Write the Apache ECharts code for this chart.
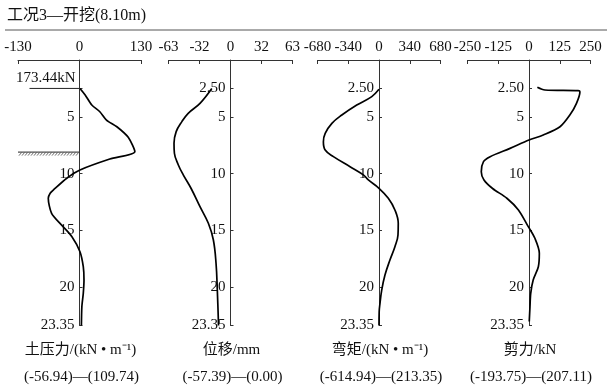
<!DOCTYPE html>
<html><head><meta charset="utf-8">
<script src="https://cdn.jsdelivr.net/npm/echarts@6/dist/echarts.min.js"></script>
<style>html,body{margin:0;padding:0;background:#fff}#c{width:607px;height:387px}</style>
</head><body><div id="c"></div>
<script>
// ---- data ----
const titleText = '工况3—开挖(8.10m)';
const depthTicks = [2.5, 5, 10, 15, 20, 23.35];
const depthTickLabels = ['2.50', '5', '10', '15', '20', '23.35'];

const panelNames = ['土压力/(kN • m⁻¹)', '位移/mm', '弯矩/(kN • m⁻¹)', '剪力/kN'];
const panelRanges = ['(-56.94)—(109.74)', '(-57.39)—(0.00)', '(-614.94)—(213.35)', '(-193.75)—(207.11)'];
const axisMin = [-130, -63, -680, -250];
const axisMax = [130, 63, 680, 250];
const axisInterval = [130, 31.5, 340, 125];

const strutDepth = 2.5;
const strutLabel = '173.44kN';
const excavationDepth = 8.1;

const epDepth = [2.5, 3.08, 3.96, 4.55, 5.28, 5.87, 6.8, 8.07, 8.71, 9.67, 10.4, 11.43, 11.72, 12.16, 13.48, 14.51, 15.54, 16.86, 18.18, 19.35, 20.52, 21.7, 23.35];
const epValue = [1, 12, 26, 43, 57, 79, 103, 117, 64, 1, -27, -55, -62, -66, -59, -38, -16, 1, 8, 9.5, 8, 5, 4];

const dispDepth = [2.5, 3.81, 4.69, 5.42, 6.3, 7.33, 8.2, 9.23, 10.1, 11.3, 12.9, 14.36, 15.83, 17.88, 20.23, 22.72, 23.35];
const dispValue = [-19, -31, -43, -49.4, -55.2, -57.4, -57, -53, -48, -40, -31, -22.5, -17.4, -14.7, -13.4, -12.4, -12.2];

const momDepth = [2.58, 3.22, 3.96, 4.84, 5.57, 6.45, 7.18, 7.92, 8.5, 9.38, 10.1, 10.55, 11.28, 12.16, 13.19, 14.36, 15.39, 16.42, 17.59, 18.91, 20.23, 21.4, 22.14, 23.35];
const momValue = [0, -80, -246, -411, -521, -595, -615, -595, -504, -320, -173, -118, 0, 103, 176, 213, 210, 176, 121, 66, 30, 11, 2, 0];

const shearDepth = [2.4, 2.64, 2.7, 2.79, 3.81, 4.84, 5.87, 6.6, 7.04, 7.77, 8.5, 8.94, 9.82, 10.55, 11.3, 12.16, 13.19, 14.66, 15.68, 17.0, 18.18, 19.35, 20.52, 21.7, 23.0];
const shearValue = [34, 65, 200, 207, 193, 166, 126, 58, 0, -77, -158, -185, -194, -183, -148, -90, -43, -3, 24, 42, 38, 17, 7, 4, 1];

// ---- chart ----
const FONT = "'Liberation Serif', 'Noto Sans CJK SC', serif";
const gridLefts = [18, 168.5, 317.5, 467.5];
const gridWidths = [123, 124, 123, 123];
const gridTop = 60, gridHeight = 265.5;

const seriesDepths = [epDepth, dispDepth, momDepth, shearDepth];
const seriesValues = [epValue, dispValue, momValue, shearValue];
const smoothness = [0.25, 0.4, 0.4, 0.3];

function fmtTop(v) {
  const s = v < 0 ? '-' : '';
  return s + Math.round(Math.abs(v));
}

const grids = [], xAxes = [], yAxes = [], series = [];
for (let i = 0; i < 4; i++) {
  grids.push({left: gridLefts[i], top: gridTop, width: gridWidths[i], height: gridHeight});
  xAxes.push({
    type: 'value', gridIndex: i, position: 'top', min: axisMin[i], max: axisMax[i], interval: axisInterval[i],
    axisLine: {show: true, onZero: false, lineStyle: {color: '#333', width: 1}},
    axisTick: {show: true, inside: true, length: 4, lineStyle: {color: '#333'}},
    axisLabel: {show: true, margin: 5, color: '#111', fontSize: 15, fontFamily: FONT, formatter: fmtTop, showMinLabel: true, showMaxLabel: true},
    splitLine: {show: false}
  });
  const zeroOffset = -gridWidths[i] * (0 - axisMin[i]) / (axisMax[i] - axisMin[i]);
  const hideFirst = (i === 0);
  yAxes.push({
    type: 'value', gridIndex: i, inverse: true, min: 0, max: 23.35, position: 'left', offset: zeroOffset,
    axisLine: {show: true, onZero: false, lineStyle: {color: '#333', width: 1}},
    axisTick: {show: true, inside: true, length: 3, customValues: depthTicks, lineStyle: {color: '#333'}},
    axisLabel: {show: true, margin: 5, color: '#111', fontSize: 15, fontFamily: FONT, customValues: depthTicks,
      formatter: function (v) {
        const k = depthTicks.findIndex(t => Math.abs(t - v) < 1e-6);
        if (k < 0 || (hideFirst && k === 0)) return '';
        return depthTickLabels[k];
      }},
    splitLine: {show: false}
  });
  series.push({
    type: 'line', xAxisIndex: i, yAxisIndex: i, symbol: 'none', smooth: smoothness[i], clip: false,
    lineStyle: {color: '#000', width: 1.7},
    data: seriesDepths[i].map((d, k) => [seriesValues[i][k], d])
  });
}

const chart = echarts.init(document.getElementById('c'), null, {renderer: 'canvas'});
chart.setOption({
  backgroundColor: '#fff', animation: false,
  textStyle: {fontFamily: FONT},
  grid: grids, xAxis: xAxes, yAxis: yAxes, series: series
});

// annotations
const g = [];
g.push({type: 'text', left: 7, top: 8, style: {text: titleText, font: '16px ' + FONT, fill: '#111'}});
g.push({type: 'line', shape: {x1: 5, y1: 30, x2: 607, y2: 30}, style: {stroke: '#555', lineWidth: 1}});

const sp = chart.convertToPixel({gridIndex: 0}, [0, strutDepth]);
g.push({type: 'line', shape: {x1: sp[0] - 50, y1: sp[1], x2: sp[0], y2: sp[1]}, style: {stroke: '#222', lineWidth: 1}});
g.push({type: 'text', x: sp[0] - 4, y: sp[1] - 3, style: {text: strutLabel, font: '15px ' + FONT, fill: '#111', align: 'right', verticalAlign: 'bottom'}});

const gl = chart.convertToPixel({gridIndex: 0}, [axisMin[0], excavationDepth]);
const gr = chart.convertToPixel({gridIndex: 0}, [0, excavationDepth]);
g.push({type: 'line', shape: {x1: gl[0], y1: gl[1], x2: gr[0], y2: gr[1]}, style: {stroke: '#222', lineWidth: 1}});
for (let x = gl[0] + 1; x < gr[0] - 1; x += 3) {
  g.push({type: 'line', shape: {x1: x, y1: gl[1] + 3.5, x2: x + 2.5, y2: gl[1] + 0.5}, style: {stroke: '#444', lineWidth: 0.8}});
}

for (let i = 0; i < 4; i++) {
  const cx = gridLefts[i] + gridWidths[i] / 2;
  g.push({type: 'text', x: cx + 1, y: 350, style: {text: panelNames[i], font: '15px ' + FONT, fill: '#111', align: 'center', verticalAlign: 'middle'}});
  g.push({type: 'text', x: cx + 2, y: 377, style: {text: panelRanges[i], font: '15px ' + FONT, fill: '#111', align: 'center', verticalAlign: 'middle'}});
}
chart.setOption({graphic: g});
</script></body></html>
